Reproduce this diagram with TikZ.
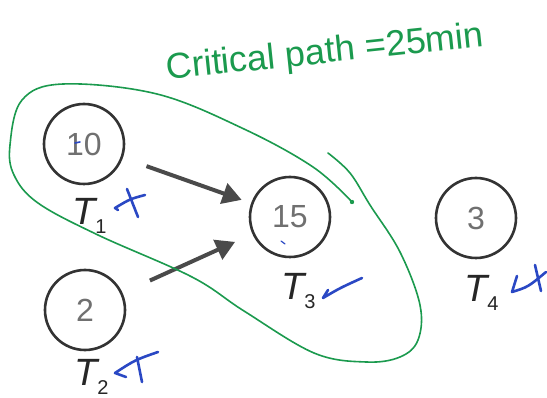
\documentclass[tikz,border=0pt]{standalone}
\usepackage{fontspec}
\setmainfont{Liberation Sans}
\usetikzlibrary{arrows.meta}
\definecolor{pen}{HTML}{1B9A4E}
\definecolor{ink}{HTML}{2A48C4}
\definecolor{ring}{HTML}{333333}
\definecolor{digit}{HTML}{707070}
\definecolor{arr}{HTML}{4A4A4A}
\tikzset{
  task/.style={circle, draw=ring, line width=2.6pt, minimum size=80pt, inner sep=0pt,
    text=digit, font=\fontsize{32}{32}\selectfont},
  tlabel/.style={anchor=base west, inner sep=0pt, text=black!85,
    font=\fontsize{38}{38}\selectfont\itshape},
  dep/.style={arr, line width=4pt, -{Triangle[length=19pt,width=21pt]}},
  inkmark/.style={ink, line width=2.6pt, line cap=round, line join=round},
  loopline/.style={pen, line width=1.6pt, line cap=round},
}
\newcommand{\tsub}[1]{\raisebox{-9pt}{\upshape\fontsize{20}{20}\selectfont #1}}
\begin{document}
\begin{tikzpicture}[x=1pt,y=-1pt]
\useasboundingbox (0,0) rectangle (547,398);
\fill[white] (0,0) rectangle (547,398);
% tasks
\node[task] (t1) at (84,144) {10};
\node[task] (t2) at (85,310) {2};
\node[task] (t3) at (290,217) {15};
\node[task] (t4) at (476,218) {3};
% labels
\node[tlabel] (l1) at (72,225) {T\tsub{1}};
\node[tlabel] (l2) at (74,386) {T\tsub{2}};
\node[tlabel] (l3) at (281,300) {T\tsub{3}};
\node[tlabel] (l4) at (464,302) {T\tsub{4}};
% dependencies
\draw[dep, shorten <=25pt, shorten >=10pt] (t1) -- (t3);
\draw[dep, shorten <=30pt, shorten >=19pt] (t2) -- (t3);
% critical path loop
\draw[loopline] plot[smooth, tension=0.6] coordinates {
  (328,153) (350,173) (370,205) (400,252) (420,305) (418,340) (400,357)
  (366,362) (314,353) (244,311) (192,277) (98,235) (38,203) (14,175)
  (10,145) (22,100) (63,84) (157,94) (244,129) (313,167) (352,202)};
\fill[pen] (352,202) circle (2.2pt);
\node[text=pen, font=\fontsize{36}{36}\selectfont, rotate=6, anchor=base, inner sep=0pt]
  (cp) at (326,63) {Critical path =25min};
% blue marks
\draw[inkmark] (127,189) -- (138,217);
\draw[inkmark] (145,195) .. controls (130,199) .. (115,208) -- (118,210);
\draw[inkmark] (158,352) .. controls (135,360) .. (115,373) -- (126,377);
\draw[inkmark] (137,357) -- (142,382);
\draw[inkmark] (328,290) -- (323,298) .. controls (340,288) .. (362,278);
\draw[inkmark] (517,276) -- (512,292) .. controls (528,287) .. (546,272);
\draw[inkmark] (535,265) -- (541,291);
\draw[inkmark, line width=1.6pt] (75,143) -- (80,142);
\draw[inkmark, line width=1.2pt] (281,241) -- (285,244);
\end{tikzpicture}
\end{document}
